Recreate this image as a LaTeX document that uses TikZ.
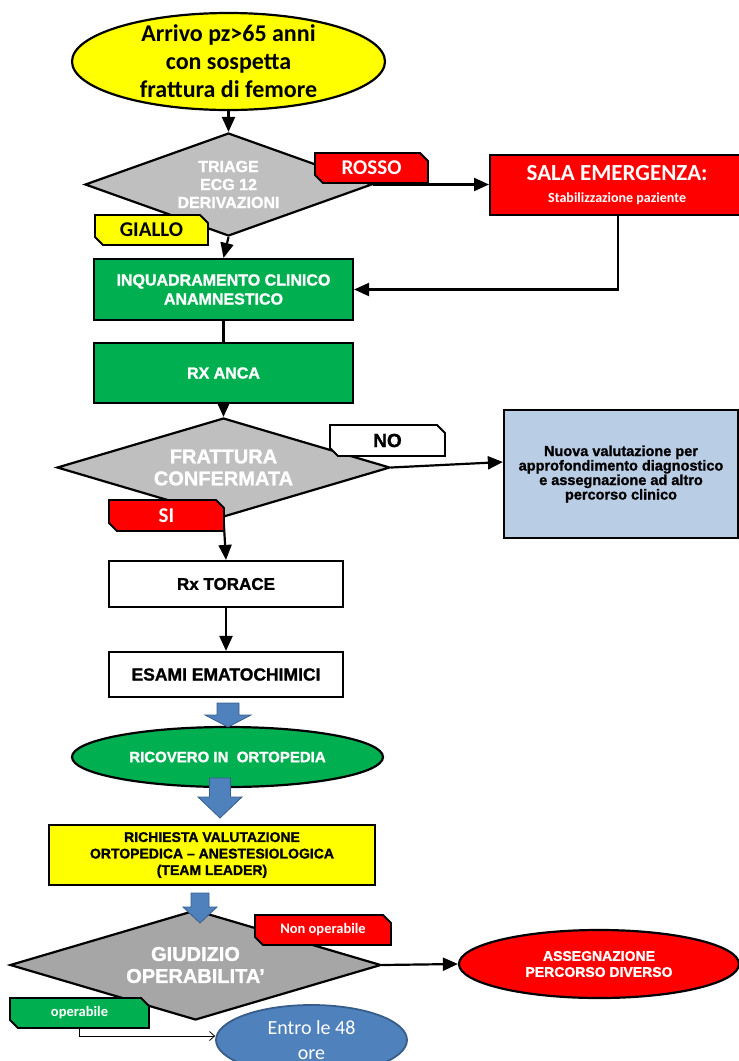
\documentclass[tikz,border=0pt]{standalone}
\usepackage{fontspec}
\setmainfont{Liberation Sans}[BoldFeatures={FakeBold=1.3}]
\newfontfamily\calfont{Carlito}
\usetikzlibrary{shapes.geometric,shapes.misc,arrows.meta,calc}
\definecolor{cred}{HTML}{FF0000}
\definecolor{cyel}{HTML}{FFFF00}
\definecolor{cgreen}{HTML}{00B050}
\definecolor{cgray}{HTML}{BFBFBF}
\definecolor{cgrayd}{HTML}{A6A6A6}
\definecolor{clblue}{HTML}{B9CDE5}
\definecolor{cblue}{HTML}{4F81BD}
\definecolor{cblued}{HTML}{385D8A}
\begin{document}
\begin{tikzpicture}[x=1pt,y=-1pt,
  box/.style={rectangle, draw=black, line width=2.2pt, inner sep=0pt, align=center},
  oval/.style={ellipse, draw=black, line width=2.2pt, inner sep=0pt, align=center},
  dia/.style={diamond, draw=black, line width=2.2pt, inner sep=0pt, align=center, text=white,
    font=\bfseries\fontsize{16}{18}\selectfont},
  tag/.style={chamfered rectangle, chamfered rectangle corners={north east,south west},
    chamfered rectangle xsep=4pt, chamfered rectangle ysep=4pt, draw=black, line width=1.8pt,
    inner sep=0pt, minimum width=113pt, minimum height=30pt},
  conn/.style={line width=2.2pt, -{Triangle[length=15pt,width=13pt]}},
  plain/.style={line width=2.2pt},
  thin/.style={line width=0.8pt, -{Straight Barb[length=5pt,width=9pt]}},
  blockarrow/.style={fill=cblue, draw=cblued, line width=0.8pt, line join=miter}
]
\useasboundingbox (0,0) rectangle (739,1061);

% ---- nodes ----
\node[oval, fill=cyel, minimum width=313pt, minimum height=97pt, inner ysep=-8pt,
  font=\calfont\bfseries\fontsize{24}{28}\selectfont] (start) at (228.5,61.5)
  {Arrivo pz>65 anni\\con sospetta\\frattura di femore};

\node[dia, fill=cgray, aspect=2.79, minimum width=287pt, minimum height=103pt] (triage) at (228.5,184.5)
  {TRIAGE\\ECG 12\\DERIVAZIONI};

\node[box, fill=cred, text=white, minimum width=254pt, minimum height=60pt, anchor=north west,
  font=\calfont\bfseries\fontsize{14}{22}\selectfont] (sala) at (489,154)
  {{\fontsize{23}{22}\selectfont SALA EMERGENZA:}\\Stabilizzazione paziente};

\node[box, fill=cgreen, text=white, minimum width=259pt, minimum height=61pt,
  font=\bfseries\fontsize{16}{19}\selectfont] (inq) at (223.5,289.5)
  {INQUADRAMENTO CLINICO\\ANAMNESTICO};

\node[box, fill=cgreen, text=white, minimum width=259pt, minimum height=60pt,
  font=\bfseries\fontsize{16}{19}\selectfont] (rxanca) at (223.5,373)
  {RX ANCA};

\node[dia, fill=cgray, aspect=3.36, minimum width=333pt, minimum height=99pt,
  font=\bfseries\fontsize{20}{22}\selectfont] (frat) at (223.5,467.5)
  {FRATTURA\\CONFERMATA};

\node[box, fill=clblue, minimum width=234pt, minimum height=128pt,
  font=\bfseries\fontsize{14.5}{14.5}\selectfont] (nuova) at (621,474)
  {Nuova valutazione per\\approfondimento diagnostico\\e assegnazione ad altro\\percorso clinico};

\node[box, fill=white, minimum width=234pt, minimum height=46pt,
  font=\bfseries\fontsize{17}{20}\selectfont] (rxt) at (226,584)
  {Rx TORACE};

\node[box, fill=white, minimum width=234pt, minimum height=45pt,
  font=\bfseries\fontsize{17.5}{20}\selectfont] (esami) at (226,674.5)
  {ESAMI EMATOCHIMICI};

\node[oval, fill=cgreen, text=white, minimum width=311pt, minimum height=60pt,
  font=\bfseries\fontsize{15}{18}\selectfont] (ricovero) at (227.5,757)
  {RICOVERO IN\ \ ORTOPEDIA};

\node[box, fill=cyel, minimum width=326pt, minimum height=60pt,
  font=\bfseries\fontsize{14}{16.5}\selectfont] (richiesta) at (212,855)
  {RICHIESTA VALUTAZIONE\\ORTOPEDICA -- ANESTESIOLOGICA\\(TEAM LEADER)};

\node[dia, fill=cgrayd, aspect=3.37, minimum width=371pt, minimum height=110pt,
  font=\bfseries\fontsize{20}{22}\selectfont] (giud) at (195.5,965)
  {GIUDIZIO\\OPERABILITA'};

\node[oval, fill=cred, text=white, minimum width=280pt, minimum height=68pt,
  font=\bfseries\fontsize{14}{16}\selectfont] (assegn) at (599,964)
  {ASSEGNAZIONE\\PERCORSO DIVERSO};

\node[ellipse, fill=cblue, draw=cblued, line width=1.8pt, minimum width=191pt, minimum height=70pt,
  inner sep=0pt, align=center, text=white, font=\calfont\fontsize{20}{25}\selectfont] (entro) at (311.5,1040)
  {Entro le 48\\ore};

% ---- connectors ----
\draw[conn] (start) -- (triage);
\draw[conn] (triage.east) -- (sala.west |- triage.east);
\draw[conn] (triage.south) -- (inq.north);
\draw[conn] (sala.south -| 618,0) |- (inq.east);
\draw[plain] (inq.south) -- (rxanca.north);
\draw[conn] (rxanca.south) -- (frat.north);
\draw[conn] (frat.east) -- ([yshift=12pt]nuova.west);
\draw[conn] (frat.south) -- (rxt.north);
\draw[conn] (rxt.south) -- (esami.north);
\draw[conn] (giud.east) -- (assegn.west);

% ---- block arrows ----
\draw[blockarrow] (217,703) -- (239,703) -- (239,715) -- (251,715) -- (228,727) -- (205,715) -- (217,715) -- cycle;
\draw[blockarrow] (209.5,778) -- (230.5,778) -- (230.5,797) -- (242,797) -- (220,818) -- (198,797) -- (209.5,797) -- cycle;
\draw[blockarrow] (191,893) -- (209,893) -- (209,907) -- (217,907) -- (200,923) -- (183,907) -- (191,907) -- cycle;

% ---- tags ----
\node[tag, fill=cred, text=white, font=\calfont\bfseries\fontsize{21}{24}\selectfont] (rosso) at (371.5,168) {ROSSO};
\node[tag, fill=cyel, font=\calfont\bfseries\fontsize{21}{24}\selectfont] (giallo) at (151.5,230) {GIALLO};
\node[tag, fill=white, minimum width=115pt, minimum height=31pt, font=\bfseries\fontsize{19}{22}\selectfont] (no) at (387.5,440.5) {NO};
\node[tag, fill=cred, text=white, minimum width=115pt, minimum height=31pt, font=\calfont\bfseries\fontsize{21}{24}\selectfont] (si) at (166.5,515.5) {SI};
\node[tag, fill=cred, text=white, minimum width=136pt, font=\calfont\bfseries\fontsize{14.5}{17}\selectfont] (nonop) at (323,930) {Non operabile};
\node[tag, fill=cgreen, text=white, minimum width=139pt, font=\calfont\bfseries\fontsize{14.5}{17}\selectfont] (oper) at (79.5,1013) {operabile};

\draw[thin] (oper.south) |- ([yshift=4pt]entro.west);
\end{tikzpicture}
\end{document}
